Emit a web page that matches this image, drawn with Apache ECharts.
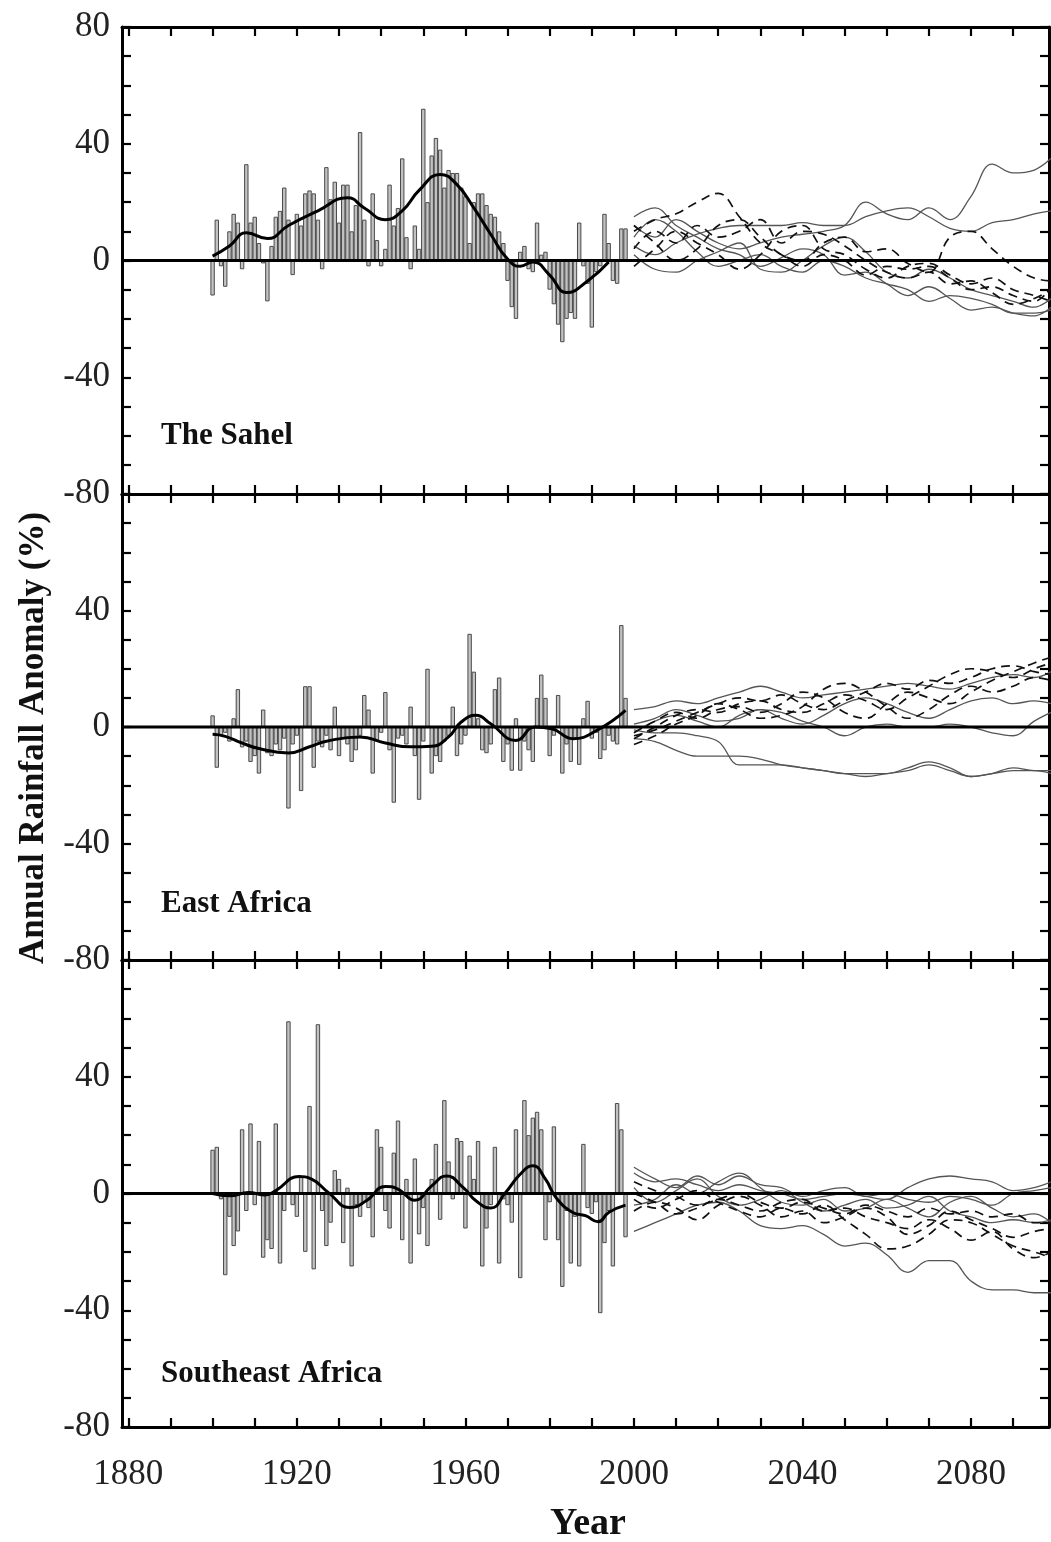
<!DOCTYPE html>
<html><head><meta charset="utf-8">
<script src="https://cdn.jsdelivr.net/npm/echarts@6/dist/echarts.min.js"></script>
<style>html,body{margin:0;padding:0;background:#fff}#c{width:1051px;height:1542px}</style>
</head><body><div id="c"></div>
<script>
// ---------------- data ----------------
const FIRST_YEAR = 1900; // observed bars run 1900..1998
const panelNames = ['The Sahel', 'East Africa', 'Southeast Africa'];

const sahelBars = [-12,14,-2,-9,10,16,13,-3,33,13, 15,6,-1,-14,5,15,17,25,14,-5,
  16,12,23,24,23,14,-3,32,21,27, 13,26,26,10,19,44,14,-2,23,7,
  -2,4,26,12,18,35,8,-3,12,4, 52,20,36,42,38,25,31,30,30,25,
  22,6,20,23,23,19,16,15,10,6, -7,-16,-20,3,5,-3,-4,13,2,3,
  -10,-15,-22,-28,-20,-18,-20,13,-2,-8, -23,-4,-2,16,6,-7,-8,11,11];
const eastBars = [4,-14,-3,-2,-5,3,13,-7,-5,-12, -10,-16,6,-9,-10,-6,-8,-4,-28,-6,
  -3,-22,14,14,-14,-5,-7,-3,-8,7, -10,-4,-6,-12,-8,-3,11,6,-16,-5,
  -2,12,-8,-26,-4,-3,-6,7,-10,-25, -5,20,-16,-10,-12,-5,-3,7,-10,-6,
  -3,32,19,3,-8,-9,-6,13,17,-12, -6,-15,3,-15,-5,-8,-12,10,18,10,
  -10,-3,11,-16,-6,-12,-4,-13,3,9, -4,-2,-11,-8,-3,-5,-6,35,10];
const southBars = [15,16,-2,-28,-8,-18,-13,22,-6,24, -4,18,-22,-16,-19,24,-24,-6,59,-4,
  -8,6,-20,30,-26,58,-6,-18,-10,8, 5,-17,2,-25,-4,-8,-3,-5,-15,22,
  16,-6,-12,14,25,-16,5,-24,12,-14, -5,-18,5,17,-9,32,11,-2,19,18,
  -12,13,5,18,-25,-12,-4,16,-24,-2, -4,-10,22,-29,32,20,26,28,22,-16,
  -3,23,-16,-32,-6,-24,-8,-25,17,-5, -7,-3,-41,-17,-6,-25,31,22,-15];

const sahelSmooth = [[1900,1.5],[1904,5],[1908,9.5],[1913,7.5],[1918,12],[1925,17],[1932,21.5],
  [1936,18],[1941,14],[1945,17],[1949,24],[1954,29.5],[1958,26],[1962,18],[1966,9],[1970,0.5],
  [1973,-2],[1976,-0.5],[1980,-5],[1984,-11],[1989,-7],[1994,-0.5]];
const eastSmooth = [[1900,-2.5],[1903,-3.2],[1907,-5.5],[1911,-7.4],[1918,-8.9],[1923,-6.8],[1927,-4.9],
  [1935,-3.4],[1941,-5.5],[1947,-6.8],[1952,-6.6],[1956,-3.4],[1959,1.7],[1962.5,4],[1966,1.1],
  [1972,-4.6],[1976.5,0],[1980.5,-0.6],[1985.5,-4],[1991.5,-0.9],[1998,5.7]];
const southSmooth = [[1900,0],[1904,-0.8],[1908.5,0.3],[1912.5,-0.5],[1915,1],[1920.5,5.8],[1923.5,4.9],
  [1927.5,0.3],[1932.5,-4.8],[1936.5,-2.5],[1941,2.4],[1944,1.5],[1948,-2.3],[1952,2.6],[1955.5,6],
  [1959.5,2],[1962.5,-2.5],[1966,-5],[1969.5,0.3],[1973,6.6],[1976,9.5],[1979,4.9],[1981.5,-1.4],
  [1985.5,-6.5],[1988.5,-7.6],[1991.5,-9.7],[1994,-6.5],[1998,-4]];

const projYears = [2000,2005,2010,2015,2020,2025,2030,2035,2040,2045,2050,2055,2060,2065,2070,2075,2080,2085,2090,2095,2099];

const sahelSolid = [
  [12,8,14,10,6,4,6,8,9,10,12,20,16,14,18,14,22,33,30,31,35],
  [5,2,6,9,11,12,12,12,13,12,12,15,17,18,15,11,10,13,14,16,17],
  [8,14,10,3,-2,0,2,-2,-4,0,-2,-6,-8,-10,-14,-12,-13,-15,-18,-18,-17],
  [2,-3,-4,0,3,6,-3,-4,0,5,8,3,-4,-6,-3,-6,-10,-12,-14,-16,-13],
  [15,18,12,8,4,2,-2,1,4,2,-5,-4,-8,-12,-9,-13,-17,-16,-18,-19,-16]];
const sahelDashed = [
  [10,14,16,20,23,15,6,2,-2,2,0,-5,-2,-3,-2,-6,-10,-9,-12,-14,-9],
  [12,6,0,4,12,14,8,2,0,6,8,3,4,-1,-4,8,10,4,-2,-6,-7],
  [4,10,6,12,8,10,14,6,10,9,5,0,-4,-6,-4,-8,-7,-11,-15,-13,-10],
  [-2,4,10,6,2,-3,2,10,12,4,2,-3,-6,-2,-1,-5,-8,-6,-10,-12,-14]];

const eastSolid = [
  [6,7,9,8,10,12,14,12,10,11,12,13,14,15,14,13,15,17,18,17,19],
  [1,3,6,4,2,3,6,5,2,0,-3,0,1,0,0,1,0,-2,-3,2,5],
  [-4,-5,-8,-10,-10,-10,-11,-13,-14,-15,-16,-16,-16,-14,-12,-14,-17,-16,-14,-15,-15],
  [-1,-2,-2,-3,-5,-13,-13,-13,-14,-15,-16,-17,-16,-15,-13,-15,-17,-16,-15,-15,-16],
  [-2,2,4,2,0,4,6,3,1,4,8,10,8,5,3,6,9,10,8,9,8]];
const eastDashed = [
  [-4,0,4,6,5,8,9,6,5,8,11,9,6,10,14,18,20,19,17,20,22],
  [-2,2,5,3,6,7,5,8,12,10,5,3,8,12,10,8,12,16,19,22,24],
  [-6,-3,1,4,8,6,3,4,7,13,15,12,7,3,6,11,14,12,14,17,16],
  [-3,-1,2,5,8,10,9,11,8,6,9,12,15,13,16,15,17,20,21,19,18]];

const southSolid = [
  [-13,-10,-7,-4,-3,-6,-11,-12,-11,-14,-18,-17,-21,-27,-23,-23,-30,-33,-33,-34,-34],
  [7,4,5,3,1,3,1,0,-2,-1,0,-1,-2,2,5,6,5,4,1,2,4],
  [9,5,2,6,3,6,3,2,-1,1,2,-1,0,-2,-3,-1,-2,-4,0,1,2],
  [2,-3,1,5,-1,-4,-2,1,-3,-6,-4,-2,-5,-4,-1,-6,-8,-10,-9,-10,-9],
  [-4,-2,3,0,4,7,2,-3,-4,-2,-6,-5,-2,-5,-8,-3,-1,-5,-8,-7,-10]];
const southDashed = [
  [-2,-5,-2,1,-3,-6,-8,-5,-7,-4,-9,-14,-19,-18,-14,-9,-10,-14,-18,-20,-22],
  [0,-3,-7,-5,-2,-4,-6,-3,-2,-6,-5,-8,-10,-12,-9,-12,-16,-13,-19,-22,-20],
  [4,1,-1,-4,-2,0,-3,-5,-3,-5,-7,-4,-6,-8,-5,-7,-6,-8,-7,-10,-10],
  [-6,-3,-5,-9,-4,-1,-4,-8,-6,-10,-8,-5,-8,-14,-11,-6,-9,-12,-15,-13,-12]];

const xTickValues = [1880,1890,1900,1910,1920,1930,1940,1950,1960,1970,1980,1990,2000,2010,2020,2030,2040,2050,2060,2070,2080,2090];
const xLabelValues = [1880,1920,1960,2000,2040,2080];
const yTickValues = [-80,-70,-60,-50,-40,-30,-20,-10,0,10,20,30,40,50,60,70,80];
const yLabelsTop = [-80,-40,0,40,80];
const yLabelsLower = [-80,-40,0,40];
const X_MIN = 1878.5, X_MAX = 2098.5;

// ---------------- chart ----------------
const panels = [
  {bars: sahelBars, smooth: sahelSmooth, solid: sahelSolid, dashed: sahelDashed},
  {bars: eastBars, smooth: eastSmooth, solid: eastSolid, dashed: eastDashed},
  {bars: southBars, smooth: southSmooth, solid: southSolid, dashed: southDashed}];
const tops = [27, 494, 960];
const heights = [467, 466, 467];
const FONT = 'Liberation Serif';
const AX = {onZero: false, lineStyle: {color: '#000', width: 3}};
const TICK = {inside: true, length: 9, lineStyle: {color: '#000', width: 2.2}};
const plain = v => String(Math.round(v));

const grid = [], xAxis = [], yAxis = [], series = [], graphic = [];
panels.forEach((p, i) => {
  grid.push({left: 122, width: 927, top: tops[i], height: heights[i], show: false});
  const last = i === panels.length - 1;
  xAxis.push({type: 'value', gridIndex: i, position: 'bottom', min: X_MIN, max: X_MAX,
    axisLine: AX, splitLine: {show: false},
    axisTick: Object.assign({customValues: xTickValues}, TICK),
    axisLabel: {show: last, customValues: xLabelValues, formatter: plain, fontFamily: FONT, fontSize: 35, color: '#222', margin: 30}});
  xAxis.push({type: 'value', gridIndex: i, position: 'top', min: X_MIN, max: X_MAX,
    axisLine: AX, splitLine: {show: false},
    axisTick: Object.assign({customValues: xTickValues}, TICK), axisLabel: {show: false}});
  yAxis.push({type: 'value', gridIndex: i, position: 'left', min: -80, max: 80, interval: 10,
    axisLine: AX, splitLine: {show: false},
    axisTick: Object.assign({customValues: yTickValues}, TICK),
    axisLabel: {customValues: i === 0 ? yLabelsTop : yLabelsLower, formatter: plain, fontFamily: FONT, fontSize: 35, color: '#222', margin: 12}});
  yAxis.push({type: 'value', gridIndex: i, position: 'right', min: -80, max: 80, interval: 10,
    axisLine: AX, splitLine: {show: false},
    axisTick: Object.assign({customValues: yTickValues}, TICK), axisLabel: {show: false}});

  series.push({type: 'bar', xAxisIndex: 2 * i, yAxisIndex: 2 * i, barWidth: 4.4, z: 2,
    itemStyle: {color: '#c2c2c2', borderColor: '#4a4a4a', borderWidth: 1},
    data: p.bars.map((v, k) => [FIRST_YEAR + k, v])});
  p.solid.forEach(arr => series.push({type: 'line', xAxisIndex: 2 * i, yAxisIndex: 2 * i, smooth: 0.4,
    symbol: 'none', z: 3, lineStyle: {color: '#555', width: 1.3},
    data: arr.map((v, k) => [projYears[k], v])}));
  p.dashed.forEach(arr => series.push({type: 'line', xAxisIndex: 2 * i, yAxisIndex: 2 * i, smooth: 0.4,
    symbol: 'none', z: 4, lineStyle: {color: '#111', width: 1.7, type: [9, 6]},
    data: arr.map((v, k) => [projYears[k], v])}));
  series.push({type: 'line', xAxisIndex: 2 * i, yAxisIndex: 2 * i, symbol: 'none', z: 5,
    lineStyle: {color: '#000', width: 3}, data: [[X_MIN, 0], [X_MAX, 0]]});
  series.push({type: 'line', xAxisIndex: 2 * i, yAxisIndex: 2 * i, smooth: 0.5, symbol: 'none', z: 6,
    lineStyle: {color: '#000', width: 3}, data: p.smooth});
});

const labelY = [437, 905, 1375];
panelNames.forEach((t, i) => graphic.push({type: 'text', left: 161, top: labelY[i] - 17,
  style: {text: t, font: 'bold 31px "Liberation Serif"', fill: '#111'}}));
graphic.push({type: 'text', x: 34, y: 738, rotation: Math.PI / 2,
  style: {text: 'Annual Rainfall Anomaly (%)', font: 'bold 35px "Liberation Serif"', fill: '#111',
    align: 'center', verticalAlign: 'middle'}});
graphic.push({type: 'text', x: 588, y: 1524,
  style: {text: 'Year', font: 'bold 38px "Liberation Serif"', fill: '#111', align: 'center', verticalAlign: 'middle'}});

const chart = echarts.init(document.getElementById('c'), null, {renderer: 'canvas'});
chart.setOption({animation: false, backgroundColor: '#fff', grid, xAxis, yAxis, series, graphic});
</script></body></html>
